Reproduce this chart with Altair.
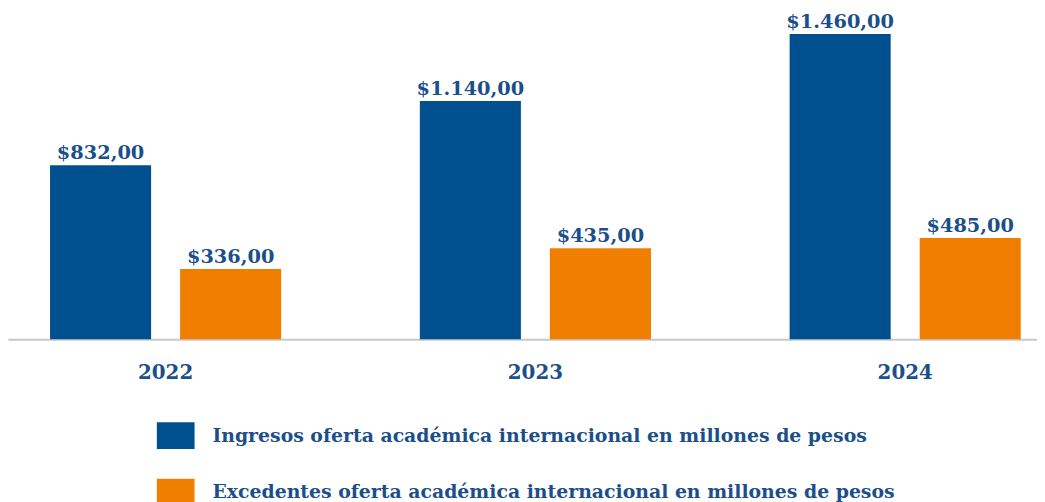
import altair as alt
import pandas as pd

years = ["2022", "2023", "2024"]
series = [
    "Ingresos oferta académica internacional en millones de pesos",
    "Excedentes oferta académica internacional en millones de pesos",
]
ingresos = [832, 1140, 1460]
excedentes = [336, 435, 485]

def fmt(v):
    s = f"{v:,.2f}"
    s = s.replace(",", "X").replace(".", ",").replace("X", ".")
    return "$" + s

rows = []
for i, y in enumerate(years):
    rows.append({"year": y, "serie": series[0], "value": ingresos[i], "label": fmt(ingresos[i])})
    rows.append({"year": y, "serie": series[1], "value": excedentes[i], "label": fmt(excedentes[i])})
df = pd.DataFrame(rows)

TXT = "#1B4F8A"
FONT = "DejaVu Serif"

x = alt.X("year:N", title=None,
          scale=alt.Scale(paddingInner=0.375, paddingOuter=0.1137, range=[0, 1063]),
          axis=alt.Axis(labelAngle=0, ticks=False, domainColor="#C8C8C8", domainWidth=2,
                        labelFontSize=20, labelFont=FONT, labelColor=TXT, labelPadding=23,
                        labelFontWeight="bold"))
xo = alt.XOffset("serie:N", sort=series,
                 scale=alt.Scale(paddingInner=0.223, paddingOuter=0))
y = alt.Y("value:Q", scale=alt.Scale(domain=[0, 1575], nice=False), axis=None)

color = alt.Color("serie:N", sort=series,
                  scale=alt.Scale(domain=series, range=["#00508F", "#F07F00"]),
                  legend=alt.Legend(title=None, orient="none", legendX=150, legendY=410,
                                    direction="vertical", symbolType="M-1,-0.71L1,-0.71L1,0.71L-1,0.71Z",
                                    symbolSize=1444, symbolStrokeWidth=0, symbolOpacity=1,
                                    labelFont=FONT, labelFontSize=19, labelColor=TXT,
                                    labelFontWeight="bold", labelOffset=18, rowPadding=24,
                                    labelLimit=1000))

bars = alt.Chart(df).mark_bar().encode(x=x, xOffset=xo, y=y, color=color)
labels = alt.Chart(df).mark_text(baseline="alphabetic", dy=-6, font=FONT, fontSize=19.5,
                                 fontWeight="bold", color=TXT).encode(
    x=x, xOffset=xo, y=y, text="label:N")

chart = (bars + labels).properties(
    width=1037, height=332,
    autosize=alt.AutoSizeParams(type="none"),
    padding={"left": 0, "top": 0, "right": 0, "bottom": 162},
).configure_view(stroke=None)

chart.save("out.html", embed_options={"renderer": "svg", "actions": False})
